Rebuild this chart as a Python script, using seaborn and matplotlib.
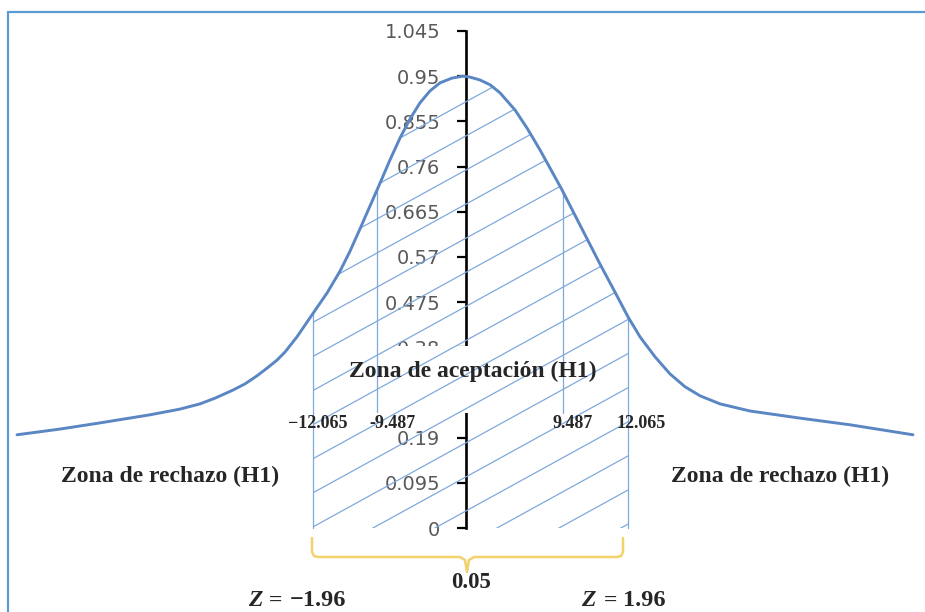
import numpy as np
import matplotlib
matplotlib.use("Agg")
import matplotlib.pyplot as plt
from matplotlib.patches import Polygon, Rectangle
from matplotlib.lines import Line2D
import seaborn as sns

# ---------------- data ----------------
# bell curve: x in sketch units (centre = 0, 1 unit = 10 px), y in axis units
curve_x = [-44.6, -40.3, -36.3, -31.3, -28.3, -26.3, -24.8, -23.0, -21.8, -20.6,
           -19.6, -18.6, -17.8, -16.6, -15.3, -13.6, -12.3, -11.3, -10.3, -9.3,
           -8.3, -7.3, -6.3, -5.3, -4.3, -3.3, -2.3, -1.1, 0.0, 0.7,
           1.7, 2.7, 3.7, 5.2, 6.4, 7.7, 8.7, 9.9, 11.7, 13.7,
           15.2, 16.5, 17.7, 19.2, 20.7, 22.2, 23.7, 25.7, 28.7, 33.7,
           38.7, 45.0]
curve_y = [0.196, 0.208, 0.221, 0.238, 0.250, 0.261, 0.273, 0.290, 0.303, 0.320,
           0.336, 0.353, 0.370, 0.402, 0.442, 0.494, 0.540, 0.582, 0.629, 0.677,
           0.725, 0.774, 0.820, 0.860, 0.894, 0.919, 0.936, 0.946, 0.950, 0.948,
           0.942, 0.932, 0.915, 0.879, 0.841, 0.795, 0.757, 0.711, 0.637, 0.555,
           0.496, 0.444, 0.402, 0.360, 0.324, 0.297, 0.278, 0.261, 0.246, 0.231,
           0.217, 0.196]

y_ticks = [0, 0.095, 0.19, 0.285, 0.38, 0.475, 0.57, 0.665, 0.76, 0.855, 0.95, 1.045]
y_tick_labels = ["0", "0.095", "0.19", "0.285", "0.38", "0.475", "0.57",
                 "0.665", "0.76", "0.855", "0.95", "1.045"]

crit_labels = ["\u221212.065", "-9.487", "9.487", "12.065"]
alpha_label = "0.05"
z_values = ["\u22121.96", "1.96"]
zone_accept = "Zona de aceptación (H1)"
zone_reject = "Zona de rechazo (H1)"

# ---------------- layout helpers (pixel -> data) ----------------
W, H = 925, 612


def X(px):
    return (px - 463) / 10.0


def Y(py):
    return (528 - py) / 475.6


sns.set_theme(style="white")
plt.rcParams["font.family"] = ["DejaVu Sans"]

fig = plt.figure(figsize=(W / 100, H / 100), dpi=100)
ax = fig.add_axes([0, 0, 1, 1])
ax.set_xlim(X(0), X(W))
ax.set_ylim(Y(H), Y(0))
ax.set_facecolor("white")

# central y axis
for s in ["top", "right", "bottom"]:
    ax.spines[s].set_visible(False)
ax.spines["left"].set_position(("data", X(466)))
ax.spines["left"].set_bounds(0, 1.045)
ax.spines["left"].set_color("black")
ax.spines["left"].set_linewidth(1.9)
ax.spines["left"].set_zorder(2.5)
ax.set_xticks([])
ax.set_yticks(y_ticks)
ax.set_yticklabels(y_tick_labels)
ax.tick_params(axis="y", direction="out", length=6.5, width=1.6, pad=12,
               labelsize=14, labelcolor="#595959", color="black", left=True)
for lbl in ax.get_yticklabels():
    lbl.set_fontfamily(["DejaVu Sans"])

# white patch hiding part of the axis behind the acceptance label
ax.add_patch(Rectangle((X(374), Y(413)), X(482) - X(374), Y(346) - Y(413),
                       facecolor="white", edgecolor="none", zorder=3))

# curve
sns.lineplot(x=curve_x, y=curve_y, ax=ax, color="#5a86c4", lw=2.1,
             sort=False, zorder=6)

cx = np.array(curve_x)
cy = np.array(curve_y)


def yc(x):
    return float(np.interp(x, cx, cy))


# hatched acceptance region
xl, xr = X(313), X(628)
xs = np.linspace(xl, xr, 200)
poly_pts = [(xl, 0)] + [(x, yc(x)) for x in xs] + [(xr, 0)]
clip = Polygon(poly_pts, closed=True, transform=ax.transData,
               facecolor="none", edgecolor="none")
ax.add_patch(clip)
hatch_col = "#7ea9dc"
slope = 0.55 * 10 / 475.6
for k in range(-16, 6):
    x0 = X(435 + 62 * k)
    hx = np.array([X(290), X(650)])
    hy = slope * (hx - x0)
    ln, = ax.plot(hx, hy, color=hatch_col, lw=0.9, zorder=4)
    ln.set_clip_path(clip)

# vertical critical lines
v_pos = [X(313), X(377), X(563), X(628)]
v_bottom = [0.0, Y(412), Y(413), 0.0]
for xp, yb in zip(v_pos, v_bottom):
    ax.plot([xp, xp], [yb, yc(xp)], color=hatch_col, lw=0.9, zorder=4)

# text
serif = ["Liberation Serif", "DejaVu Serif"]
ax.text(X(473), Y(371), zone_accept, ha="center", va="center", fontsize=17,
        fontweight="bold", family=serif, zorder=7)
ax.text(X(170), Y(476), zone_reject, ha="center", va="center", fontsize=17,
        fontweight="bold", family=serif, zorder=7)
ax.text(X(780), Y(476), zone_reject, ha="center", va="center", fontsize=17,
        fontweight="bold", family=serif, zorder=7)

crit_px = [318, 393, 573, 641]
for lab, px in zip(crit_labels, crit_px):
    ax.text(X(px), Y(424), lab, ha="center", va="center", fontsize=13,
            fontweight="bold", family=serif, zorder=7)

# yellow brace
brace_x = [312, 312, 314, 318, 460, 465, 467, 469, 474, 617, 621, 623, 623]
brace_y = [538, 552, 556, 557, 557, 560, 572, 560, 557, 557, 556, 552, 538]
ax.plot([X(p) for p in brace_x], [Y(p) for p in brace_y], color="#f2d26a",
        lw=1.8, zorder=4, solid_joinstyle="round")

ax.text(X(471), Y(583), alpha_label, ha="center", va="center", fontsize=16.5,
        fontweight="bold", family=serif, zorder=7)

# Z = -1.96 and Z = 1.96
for zval, zx, eqx, vx in [(z_values[0], 255, 276, 290), (z_values[1], 588, 611, 623)]:
    ax.text(X(zx), Y(601), "Z", ha="center", va="center", fontsize=17,
            fontweight="bold", style="italic", family=serif, zorder=7)
    ax.text(X(eqx), Y(601), "=", ha="center", va="center", fontsize=17,
            fontweight="bold", family=serif, zorder=7)
    ax.text(X(vx), Y(601), zval, ha="left", va="center",
            fontsize=17.5, fontweight="bold", family=serif, zorder=7)

# blue frame (top and left edges)
fig.add_artist(Line2D([8 / W, 1.0], [1 - 12 / H, 1 - 12 / H], color="#5b9bd5",
                      lw=1.6, transform=fig.transFigure))
fig.add_artist(Line2D([8 / W, 8 / W], [0, 1 - 12 / H], color="#5b9bd5",
                      lw=1.6, transform=fig.transFigure))

fig.savefig("out.png", dpi=100, facecolor="white")
